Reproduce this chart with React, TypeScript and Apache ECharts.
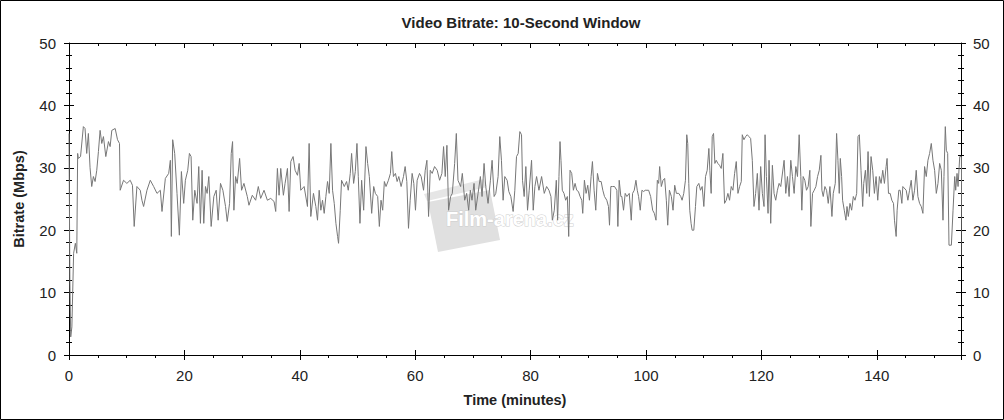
import React, { useEffect, useRef } from "react";
import * as echarts from "echarts";

const chartTitle = "Video Bitrate: 10-Second Window";
const xName = "Time (minutes)";
const yName = "Bitrate (Mbps)";
const yTicks = [0, 10, 20, 30, 40, 50];
const xTicks = [0, 20, 40, 60, 80, 100, 120, 140];

// time in minutes
const timeMin = [
  0.0, 0.15, 0.3, 0.5, 0.8, 1.1, 1.35, 1.5, 1.62, 2.0, 2.49, 2.78, 3.07, 3.36, 3.65, 3.94, 4.23, 4.52, 4.81, 5.1,
  5.39, 5.68, 5.97, 6.38, 6.84, 7.13, 7.42, 8.0, 8.41, 8.75, 8.87, 9.45, 10.03, 10.61, 11.0, 11.3, 11.77, 12.35, 12.64, 12.93,
  13.51, 14.09, 14.67, 15.25, 15.83, 16.12, 16.7, 17.28, 17.57, 17.74, 17.97, 18.32, 18.72, 19.13, 19.48, 19.88, 20.17, 20.58, 20.87, 21.16,
  21.45, 21.8, 22.2, 22.49, 22.78, 23.07, 23.36, 23.65, 23.94, 24.23, 24.64, 25.1, 25.51, 25.85, 26.26, 26.67, 27.13, 27.42, 27.83, 28.12,
  28.35, 28.58, 28.87, 29.16, 29.57, 29.91, 30.32, 30.9, 31.19, 31.77, 32.35, 32.81, 33.22, 33.8, 34.38, 34.96, 35.54, 35.83, 36.12, 36.41,
  36.7, 37.16, 37.45, 37.86, 38.15, 38.44, 38.84, 39.19, 39.6, 39.89, 40.17, 40.75, 41.33, 41.62, 41.91, 42.37, 42.78, 43.07, 43.36, 43.65,
  43.94, 44.23, 44.52, 44.81, 45.1, 45.39, 45.68, 45.97, 46.26, 46.55, 46.72, 47.01, 47.24, 47.71, 48.11, 48.4, 48.75, 48.98, 49.33, 49.62,
  49.91, 50.14, 50.43, 50.72, 51.07, 51.47, 51.76, 52.05, 52.46, 52.81, 53.1, 53.5, 53.79, 54.08, 54.37, 54.66, 54.95, 55.36, 55.71, 55.94,
  56.23, 56.58, 56.87, 57.16, 57.56, 57.97, 58.26, 58.55, 58.84, 59.13, 59.47, 59.76, 60.05, 60.34, 60.75, 61.04, 61.45, 61.74, 62.03, 62.32,
  62.61, 62.95, 63.36, 63.82, 64.23, 64.63, 64.92, 65.21, 65.5, 65.79, 66.14, 66.43, 66.84, 67.13, 67.42, 67.88, 68.17, 68.58, 68.92, 69.27,
  69.56, 69.85, 70.2, 70.49, 70.9, 71.3, 71.59, 71.94, 72.23, 72.63, 73.04, 73.33, 73.68, 73.97, 74.37, 74.66, 74.95, 75.24, 75.53, 75.94,
  76.23, 76.58, 76.98, 77.27, 77.56, 77.85, 78.14, 78.43, 78.6, 78.89, 79.18, 79.47, 79.76, 80.17, 80.46, 80.75, 81.04, 81.45, 81.91, 82.37,
  82.78, 83.19, 83.53, 83.77, 84.11, 84.46, 84.69, 84.92, 85.1, 85.27, 85.5, 85.79, 86.08, 86.37, 86.61, 86.84, 87.13, 87.42, 87.71, 88.0,
  88.29, 88.58, 88.87, 89.04, 89.33, 89.62, 89.91, 90.2, 90.49, 90.72, 91.01, 91.3, 91.59, 91.88, 92.23, 92.52, 92.81, 93.21, 93.5, 93.68,
  93.91, 94.2, 94.55, 94.95, 95.13, 95.36, 95.65, 95.82, 96.11, 96.4, 96.69, 97.1, 97.45, 97.68, 97.97, 98.26, 98.49, 98.72, 99.01, 99.3,
  99.59, 99.88, 100.17, 100.46, 100.81, 101.16, 101.45, 101.74, 101.97, 102.2, 102.37, 102.66, 102.95, 103.24, 103.53, 103.77, 104.06, 104.4, 104.69, 104.98,
  105.27, 105.68, 106.03, 106.26, 106.55, 106.84, 107.07, 107.24, 107.42, 107.59, 107.82, 108.0, 108.29, 108.58, 108.81, 109.16, 109.45, 109.74, 110.03, 110.32,
  110.61, 110.9, 111.07, 111.3, 111.48, 111.71, 111.94, 112.17, 112.46, 112.75, 113.04, 113.33, 113.62, 113.91, 114.2, 114.49, 114.78, 115.07, 115.36, 115.65,
  115.94, 116.23, 116.52, 116.69, 116.98, 117.27, 117.56, 117.85, 118.14, 118.43, 118.72, 119.01, 119.3, 119.59, 119.88, 120.17, 120.46, 120.64, 120.87, 121.16,
  121.33, 121.62, 121.91, 122.2, 122.49, 122.78, 123.07, 123.36, 123.94, 124.23, 124.52, 124.81, 125.1, 125.39, 125.68, 125.97, 126.26, 126.55, 126.84, 127.01,
  127.24, 127.53, 127.82, 128.11, 128.4, 128.58, 128.87, 129.16, 129.45, 129.74, 130.03, 130.32, 130.49, 130.72, 131.01, 131.3, 131.59, 131.88, 132.23, 132.46,
  132.81, 133.04, 133.27, 133.5, 133.68, 133.91, 134.08, 134.37, 134.66, 134.84, 135.07, 135.36, 135.65, 135.94, 136.23, 136.52, 136.75, 136.98, 137.27, 137.56,
  137.74, 138.03, 138.26, 138.49, 138.72, 139.01, 139.3, 139.59, 139.88, 140.17, 140.46, 140.75, 141.04, 141.33, 141.62, 141.79, 142.03, 142.32, 142.61, 142.9,
  143.07, 143.36, 143.53, 143.82, 144.06, 144.35, 144.52, 145.1, 145.39, 145.68, 145.97, 146.26, 146.55, 146.84, 147.13, 147.42, 147.71, 148.0, 148.29, 148.58,
  148.87, 149.16, 149.45, 149.74, 150.03, 150.32, 150.61, 150.9, 151.19, 151.48, 151.65, 151.88, 152.06, 152.29, 152.52, 152.93, 153.22, 153.51, 153.68, 153.91,
  154.09, 154.38, 154.67, 154.78,
];

// bitrate in Mbps
const bitrate = [
  35.5, 12.0, 2.9, 4.5, 16.3, 17.9, 16.3, 32.3, 31.5, 31.8, 36.6, 36.3, 32.3, 35.5, 30.0, 27.0, 28.6, 27.8, 29.6, 32.6,
  36.0, 33.9, 35.0, 31.8, 34.2, 33.4, 36.0, 36.3, 34.5, 33.9, 26.4, 28.0, 27.5, 28.0, 27.2, 20.6, 27.0, 26.4, 24.8, 23.8,
  26.4, 28.0, 27.0, 25.9, 26.4, 23.0, 28.3, 29.1, 31.2, 19.0, 34.5, 32.3, 25.9, 19.2, 29.4, 24.3, 28.0, 29.6, 32.3, 31.8,
  21.6, 26.4, 24.3, 30.2, 21.1, 29.6, 21.1, 27.0, 25.9, 28.6, 20.6, 25.4, 26.4, 21.6, 27.5, 26.4, 23.8, 21.4, 24.3, 32.3,
  34.2, 23.2, 28.6, 27.5, 31.5, 26.4, 27.5, 25.4, 24.0, 25.6, 24.8, 27.0, 25.1, 26.4, 24.8, 25.1, 24.6, 23.0, 29.9, 25.6,
  29.9, 25.6, 27.5, 29.9, 23.0, 31.0, 31.8, 29.6, 28.8, 30.7, 26.4, 27.0, 23.8, 33.9, 22.2, 25.9, 23.8, 21.6, 26.4, 23.2,
  24.8, 22.7, 25.4, 27.8, 25.9, 33.9, 26.4, 24.3, 21.1, 19.0, 17.9, 23.2, 28.0, 27.0, 27.8, 26.4, 29.1, 32.3, 27.5, 29.4,
  33.9, 28.6, 21.1, 28.0, 23.2, 33.4, 30.7, 28.6, 22.7, 27.0, 25.9, 25.4, 20.6, 24.8, 23.2, 27.8, 27.0, 28.0, 29.1, 32.6,
  28.6, 29.1, 27.8, 28.6, 27.0, 28.6, 30.2, 27.8, 20.3, 24.8, 29.1, 27.5, 23.2, 28.0, 29.1, 28.6, 26.4, 29.6, 31.2, 22.2,
  29.6, 29.1, 30.2, 29.6, 28.0, 29.1, 33.4, 28.6, 33.6, 23.2, 25.4, 25.9, 30.7, 35.5, 28.0, 27.0, 29.1, 24.8, 25.9, 23.2,
  26.4, 24.8, 27.5, 23.2, 25.9, 28.6, 25.4, 30.7, 27.0, 24.3, 28.0, 31.2, 25.4, 25.9, 28.6, 35.0, 31.2, 24.8, 28.6, 28.0,
  26.2, 25.4, 23.0, 26.4, 31.8, 32.3, 35.8, 35.3, 28.0, 25.4, 30.2, 23.2, 26.4, 31.2, 23.2, 27.0, 28.6, 26.4, 28.6, 25.9,
  27.0, 26.4, 25.4, 21.6, 23.2, 28.0, 21.6, 28.6, 34.2, 31.2, 26.4, 25.9, 24.8, 25.4, 19.0, 29.6, 29.1, 26.4, 27.5, 26.4,
  26.2, 25.4, 24.8, 22.7, 28.0, 25.9, 27.2, 24.8, 28.6, 31.0, 26.4, 23.2, 29.1, 27.8, 27.8, 26.4, 25.4, 24.8, 23.8, 20.8,
  27.0, 27.0, 27.0, 26.4, 20.6, 28.0, 25.4, 25.4, 23.2, 25.9, 25.4, 25.9, 21.6, 25.9, 26.4, 28.0, 26.4, 25.4, 23.2, 26.4,
  26.2, 26.4, 26.4, 26.4, 25.4, 23.2, 22.7, 21.6, 28.0, 27.5, 30.2, 27.0, 28.0, 28.3, 24.8, 20.8, 26.4, 25.4, 23.2, 27.2,
  25.9, 25.9, 25.4, 24.8, 25.9, 28.0, 35.3, 33.9, 27.5, 23.2, 21.1, 20.0, 20.0, 23.8, 27.0, 27.5, 26.4, 27.0, 23.8, 28.6,
  29.6, 33.1, 29.6, 25.9, 35.0, 35.5, 30.7, 31.2, 30.7, 30.4, 29.9, 32.3, 24.3, 24.8, 25.9, 24.8, 27.0, 26.4, 29.1, 31.0,
  25.9, 27.0, 27.8, 35.3, 34.5, 35.0, 35.3, 35.0, 34.7, 31.2, 23.8, 25.9, 29.1, 23.2, 30.2, 25.9, 23.8, 35.3, 28.6, 22.7,
  31.2, 21.1, 30.4, 25.9, 24.8, 26.4, 27.5, 27.0, 31.2, 25.9, 28.6, 25.4, 31.2, 28.6, 25.9, 30.2, 28.6, 35.3, 28.6, 23.2,
  28.6, 28.0, 26.4, 27.0, 29.6, 20.6, 25.9, 26.4, 27.0, 28.6, 29.6, 32.0, 26.4, 25.4, 27.0, 26.4, 24.3, 27.0, 22.2, 25.9,
  27.5, 35.5, 31.2, 25.9, 31.5, 28.6, 24.8, 23.2, 21.6, 23.8, 22.2, 24.3, 23.2, 25.4, 24.8, 25.9, 35.0, 35.3, 29.6, 23.8,
  27.5, 29.6, 25.9, 32.6, 25.4, 31.8, 29.6, 25.9, 28.6, 24.8, 28.6, 27.5, 29.6, 27.5, 30.2, 31.5, 25.9, 25.9, 24.8, 24.3,
  21.6, 19.0, 23.2, 26.4, 26.4, 24.3, 27.0, 26.4, 24.8, 26.4, 28.0, 24.8, 26.4, 29.6, 25.4, 24.3, 23.8, 22.7, 30.2, 28.6,
  31.2, 32.3, 33.9, 31.2, 29.6, 25.9, 27.5, 30.7, 29.6, 21.6, 28.6, 36.6, 32.8, 32.3, 17.6, 17.6, 23.2, 28.6, 26.4, 29.1,
  27.0, 31.8, 31.8, 15.8,
];

const FONT = "Arial, 'Liberation Sans', sans-serif";
const X_MAX = 154.6;

export default function App() {
  const ref = useRef<HTMLDivElement>(null);

  useEffect(() => {
    if (!ref.current) return;
    const chart = echarts.init(ref.current, undefined, { renderer: "svg" });
    const data = timeMin.map((t, i) => [t, bitrate[i]]);
    const black = "#000";
    const labelStyle = { fontSize: 15, color: "#222", fontFamily: FONT };
    const nameStyle = { fontSize: 14.5, fontWeight: "bold", color: "#222", fontFamily: FONT };
    const xFmt = (v: number) => (xTicks.indexOf(Math.round(v * 1000) / 1000) >= 0 ? String(v) : "");
    const yFmt = (v: number) => (yTicks.indexOf(v) >= 0 ? String(v) : "");

    const baseX = {
      type: "value",
      min: 0,
      max: X_MAX,
      interval: 20,
      splitLine: { show: false },
    };
    const baseY = {
      type: "value",
      min: 0,
      max: 50,
      interval: 10,
      splitLine: { show: false },
    };

    chart.setOption({
      animation: false,
      backgroundColor: "#fff",
      title: {
        text: chartTitle,
        left: 516,
        top: 10,
        textAlign: "center",
        textStyle: { fontSize: 15, fontWeight: "bold", color: "#222", fontFamily: FONT },
      },
      grid: { left: 69, right: 43, top: 43, bottom: 65, containLabel: false },
      xAxis: [
        {
          ...baseX,
          position: "bottom",
          axisLine: { show: true, onZero: false, lineStyle: { color: black, width: 1 } },
          axisTick: { show: true, inside: false, length: 5, lineStyle: { color: black } },
          minorTick: { show: true, splitNumber: 4, length: 3, lineStyle: { color: black } },
          axisLabel: { ...labelStyle, margin: 13, formatter: xFmt, showMaxLabel: false },
          name: xName,
          nameLocation: "middle",
          nameGap: 37,
          nameTextStyle: nameStyle,
        },
        {
          ...baseX,
          position: "bottom",
          axisLine: { show: false, onZero: false },
          axisTick: { show: true, inside: true, length: 5, lineStyle: { color: black } },
          minorTick: { show: false },
          axisLabel: { show: false },
        },
        {
          ...baseX,
          position: "top",
          axisLine: { show: true, onZero: false, lineStyle: { color: black, width: 1 } },
          axisTick: { show: true, inside: true, length: 5, lineStyle: { color: black } },
          minorTick: { show: true, splitNumber: 4, length: 3, lineStyle: { color: black } },
          axisLabel: { show: false },
        },
      ],
      yAxis: [
        {
          ...baseY,
          position: "left",
          axisLine: { show: true, onZero: false, lineStyle: { color: black, width: 1 } },
          axisTick: { show: true, inside: false, length: 5, lineStyle: { color: black } },
          minorTick: { show: true, splitNumber: 5, length: 3, lineStyle: { color: black } },
          axisLabel: { ...labelStyle, margin: 13, formatter: yFmt },
          name: yName,
          nameLocation: "middle",
          nameGap: 43,
          nameRotate: 90,
          nameTextStyle: nameStyle,
        },
        {
          ...baseY,
          position: "left",
          axisLine: { show: false, onZero: false },
          axisTick: { show: true, inside: true, length: 5, lineStyle: { color: black } },
          minorTick: { show: true, splitNumber: 5, length: 3, lineStyle: { color: black } },
          axisLabel: { show: false },
        },
        {
          ...baseY,
          position: "right",
          axisLine: { show: true, onZero: false, lineStyle: { color: black, width: 1 } },
          axisTick: { show: true, inside: false, length: 5, lineStyle: { color: black } },
          minorTick: { show: true, splitNumber: 5, length: 3, lineStyle: { color: black } },
          axisLabel: { ...labelStyle, margin: 12, formatter: yFmt },
        },
        {
          ...baseY,
          position: "right",
          axisLine: { show: false, onZero: false },
          axisTick: { show: true, inside: true, length: 5, lineStyle: { color: black } },
          minorTick: { show: true, splitNumber: 5, length: 3, lineStyle: { color: black } },
          axisLabel: { show: false },
        },
      ],
      graphic: [
        {
          type: "group",
          z: 1,
          children: [
            {
              type: "polygon",
              shape: { points: [[428, 202], [490, 190], [500, 240], [438, 252]] },
              style: { fill: "#e0e0e0" },
            },
            {
              type: "polygon",
              shape: { points: [[424, 194], [484, 179], [487, 187], [427, 201]] },
              style: { fill: "#e6e6e6" },
            },
            {
              type: "text",
              x: 446,
              y: 219,
              style: {
                text: "Film-arena.cz",
                fontSize: 20,
                fontWeight: "bold",
                fontFamily: FONT,
                fill: "#ffffff",
                stroke: "#cfcfcf",
                lineWidth: 1,
                verticalAlign: "middle",
              },
            },
          ],
        },
        {
          type: "rect",
          z: 100,
          shape: { x: 0.5, y: 0.5, width: 1003, height: 419 },
          style: { fill: "none", stroke: "#000", lineWidth: 1 },
        },
      ],
      series: [
        {
          type: "line",
          xAxisIndex: 0,
          yAxisIndex: 0,
          data,
          showSymbol: false,
          symbol: "none",
          z: 5,
          lineStyle: { color: "#777777", width: 1 },
        },
      ],
    });
    return () => chart.dispose();
  }, []);

  return (
    <div
      ref={ref}
      style={{ position: "fixed", left: 0, top: 0, width: 1004, height: 420, background: "#fff" }}
    />
  );
}
